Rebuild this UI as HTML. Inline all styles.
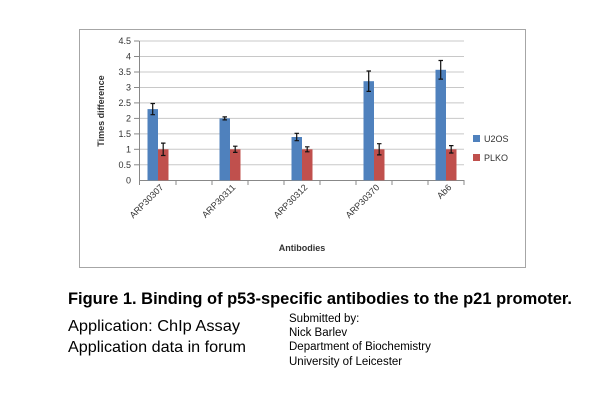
<!DOCTYPE html>
<html><head><meta charset="utf-8"><style>
body{margin:0;background:#fff;width:600px;height:400px;overflow:hidden;font-family:"Liberation Sans",Arial,sans-serif}
</style></head><body>
<svg width="600" height="400" xmlns="http://www.w3.org/2000/svg" style="position:absolute;left:0;top:0">
<rect x="79.5" y="29.5" width="446" height="238" fill="#fff" stroke="#a6a6a6" stroke-width="1"/>
<g stroke="#c8c8c8" stroke-width="1">
<line x1="139" x2="464" y1="41.0" y2="41.0"/>
<line x1="139" x2="464" y1="56.5" y2="56.5"/>
<line x1="139" x2="464" y1="72.0" y2="72.0"/>
<line x1="139" x2="464" y1="87.5" y2="87.5"/>
<line x1="139" x2="464" y1="102.9" y2="102.9"/>
<line x1="139" x2="464" y1="118.4" y2="118.4"/>
<line x1="139" x2="464" y1="133.9" y2="133.9"/>
<line x1="139" x2="464" y1="149.3" y2="149.3"/>
<line x1="139" x2="464" y1="164.8" y2="164.8"/>
</g>
<g stroke="#888" stroke-width="1">
<line x1="139" x2="464" y1="180.5" y2="180.5"/>
<line x1="139.5" x2="139.5" y1="41" y2="180.5"/>
</g>
<g stroke="#888">
<line x1="134" x2="139" y1="41" y2="41"/><line x1="134" x2="139" y1="56.5" y2="56.5"/><line x1="134" x2="139" y1="72" y2="72"/><line x1="134" x2="139" y1="87.5" y2="87.5"/><line x1="134" x2="139" y1="102.9" y2="102.9"/><line x1="134" x2="139" y1="118.4" y2="118.4"/><line x1="134" x2="139" y1="133.9" y2="133.9"/><line x1="134" x2="139" y1="149.3" y2="149.3"/><line x1="134" x2="139" y1="164.8" y2="164.8"/>
<line x1="139.5" x2="139.5" y1="180" y2="185"/><line x1="176" x2="176" y1="180" y2="185"/><line x1="212" x2="212" y1="180" y2="185"/><line x1="248" x2="248" y1="180" y2="185"/><line x1="284" x2="284" y1="180" y2="185"/><line x1="320" x2="320" y1="180" y2="185"/><line x1="356" x2="356" y1="180" y2="185"/><line x1="392" x2="392" y1="180" y2="185"/><line x1="428" x2="428" y1="180" y2="185"/><line x1="464" x2="464" y1="180" y2="185"/>
</g>
<g font-size="9" fill="#333" text-anchor="end">
<text x="131" y="44">4.5</text><text x="131" y="59.5">4</text><text x="131" y="75">3.5</text><text x="131" y="90.5">3</text><text x="131" y="106">2.5</text><text x="131" y="121.5">2</text><text x="131" y="137">1.5</text><text x="131" y="152.5">1</text><text x="131" y="168">0.5</text><text x="131" y="183.5">0</text>
</g>
<g fill="#4f81bd">
<rect x="147.5" y="109.1" width="10.5" height="71.2"/>
<rect x="219.5" y="118.4" width="10.5" height="61.9"/>
<rect x="291.5" y="137" width="10.5" height="43.3"/>
<rect x="363.5" y="81.2" width="10.5" height="99.1"/>
<rect x="435.5" y="69.8" width="10.5" height="110.5"/>
</g>
<g fill="#c0504d">
<rect x="158" y="149.3" width="10.5" height="31"/>
<rect x="230" y="149.3" width="10.5" height="31"/>
<rect x="302" y="149.3" width="10.5" height="31"/>
<rect x="374" y="149.3" width="10.5" height="31"/>
<rect x="446" y="149.3" width="10.5" height="31"/>
</g>
<g stroke="#111" stroke-width="1.2">
<path d="M152.7 103.5V114.7M150.5 103.5H155M150.5 114.7H155"/>
<path d="M224.7 116.9V119.9M222.5 116.9H227M222.5 119.9H227"/>
<path d="M296.7 133.3V140.7M294.5 133.3H299M294.5 140.7H299"/>
<path d="M368.7 71V91.4M366.5 71H371M366.5 91.4H371"/>
<path d="M440.7 60.5V79.1M438.5 60.5H443M438.5 79.1H443"/>
<path d="M163.2 143.1V155.5M161 143.1H165.5M161 155.5H165.5"/>
<path d="M235.2 146.2V152.4M233 146.2H237.5M233 152.4H237.5"/>
<path d="M307.2 146.8V151.8M305 146.8H309.5M305 151.8H309.5"/>
<path d="M379.2 143.7V154.9M377 143.7H381.5M377 154.9H381.5"/>
<path d="M451.2 145.6V153M449 145.6H453.5M449 153H453.5"/>
</g>
<g font-size="9" fill="#333" text-anchor="end">
<text transform="translate(164,188) rotate(-45)">ARP30307</text>
<text transform="translate(236,188) rotate(-45)">ARP30311</text>
<text transform="translate(308,188) rotate(-45)">ARP30312</text>
<text transform="translate(380,188) rotate(-45)">ARP30370</text>
<text transform="translate(452,188) rotate(-45)">Ab6</text>
</g>
<text x="302" y="251" font-size="9" font-weight="bold" fill="#333" text-anchor="middle">Antibodies</text>
<text transform="translate(104,111) rotate(-90)" font-size="9" font-weight="bold" fill="#333" text-anchor="middle">Times difference</text>
<rect x="473" y="135" width="7" height="7" fill="#4f81bd"/>
<text x="484" y="142" font-size="9" fill="#333">U2OS</text>
<rect x="473" y="154" width="7" height="7" fill="#c0504d"/>
<text x="484" y="161" font-size="9" fill="#333">PLKO</text>
<text x="68" y="304" font-size="16.5" font-weight="bold" fill="#000" textLength="504" lengthAdjust="spacingAndGlyphs">Figure 1. Binding of p53-specific antibodies to the p21 promoter.</text>
<text x="68" y="331" font-size="16" fill="#000" textLength="172" lengthAdjust="spacingAndGlyphs">Application: ChIp Assay</text>
<text x="68" y="352" font-size="16" fill="#000" textLength="178" lengthAdjust="spacingAndGlyphs">Application data in forum</text>
<g font-size="11.5" fill="#000">
<text x="289" y="322">Submitted by:</text>
<text x="289" y="336">Nick Barlev</text>
<text x="289" y="350">Department of Biochemistry</text>
<text x="289" y="365">University of Leicester</text>
</g>
</svg>
</body></html>
